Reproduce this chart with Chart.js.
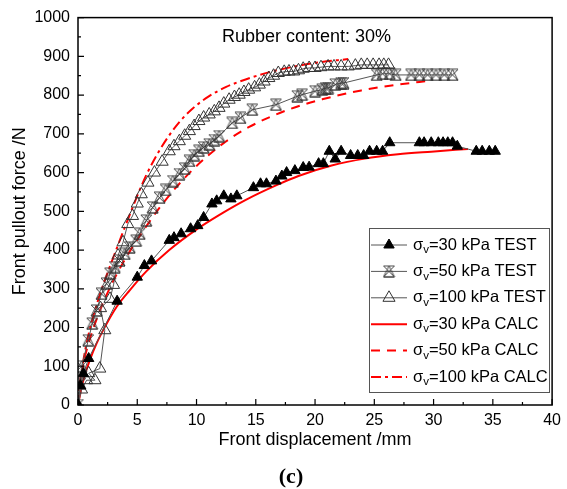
<!DOCTYPE html>
<html>
<head>
<meta charset="utf-8">
<script src="https://cdn.jsdelivr.net/npm/chart.js@4/dist/chart.umd.min.js"></script>
<style>
  body { margin: 0; background: #fff; }
  canvas { display: block; }
</style>
</head>
<body>
<canvas id="pulloutCanvas" width="567" height="489"></canvas>
<script>
// pullout test vs calculation, rubber content 30%
const xTicks = [0, 5, 10, 15, 20, 25, 30, 35, 40];
const yTicks = [0, 100, 200, 300, 400, 500, 600, 700, 800, 900, 1000];

const test30X = [0, 0.2, 0.45, 0.9, 3.3, 5.0, 5.6, 6.2, 7.7, 8.1, 8.7, 9.5, 10.1, 10.6, 11.3, 11.7, 12.3, 12.9, 13.4, 14.8, 15.4, 15.9, 16.7, 17.2, 17.6, 18.3, 19.0, 19.5, 20.3, 20.7, 21.2, 21.7, 22.2, 23.0, 23.6, 24.1, 24.6, 25.2, 25.7, 26.3, 28.8, 29.2, 29.8, 30.4, 30.8, 31.2, 31.6, 32.0, 33.6, 34.1, 34.7, 35.2];
const test30Y = [0, 50, 81, 120, 268, 330, 360, 372, 425, 432, 442, 455, 463, 484, 519, 527, 540, 532, 540, 561, 571, 571, 578, 591, 600, 605, 613, 614, 623, 623, 655, 635, 655, 644, 644, 644, 655, 655, 655, 677, 677, 677, 677, 677, 677, 677, 677, 668, 655, 655, 655, 655];

const test50X = [0, 0.2, 0.3, 0.87, 1.2, 1.57, 1.98, 2.4, 2.7, 3.1, 3.5, 3.94, 4.36, 4.9, 5.2, 5.76, 6.3, 6.88, 7.4, 8.0, 8.55, 9.0, 9.4, 9.8, 10.2, 10.6, 11.07, 11.5, 11.9, 13.0, 13.7, 14.7, 16.7, 18.5, 18.9, 20.0, 20.6, 20.9, 21.1, 21.7, 22.2, 22.4, 25.2, 25.7, 26.3, 26.8, 28.1, 28.8, 29.5, 30.2, 30.9, 31.6];
const test50Y = [0, 55, 100, 167, 210, 244, 287, 313, 339, 356, 373, 390, 407, 424, 442, 476, 510, 535, 555, 578, 596, 610, 630, 645, 656, 665, 673, 684, 694, 728, 741, 762, 775, 797, 801, 810, 814, 818, 818, 827, 831, 831, 852, 855, 855, 852, 852, 852, 852, 852, 852, 852];

const test100X = [0, 0.3, 0.73, 1.43, 0.9, 1.84, 2.26, 1.9, 2.7, 3.0, 3.38, 3.8, 4.2, 4.6, 5.0, 5.34, 5.9, 6.45, 7.1, 7.7, 8.1, 8.55, 9.0, 9.4, 9.8, 10.2, 10.6, 11.07, 11.5, 11.9, 12.3, 12.75, 13.2, 13.6, 14.0, 14.4, 14.9, 15.3, 15.7, 16.1, 16.5, 16.9, 17.4, 17.8, 18.2, 18.6, 19.0, 19.5, 20.0, 20.5, 21.1, 21.6, 22.2, 22.8, 23.4, 23.9, 24.4, 24.9, 25.4, 25.8, 26.2];
const test100Y = [0, 40, 64, 64, 82, 94, 193, 250, 274, 310, 386, 420, 467, 488, 520, 544, 574, 600, 628, 655, 668, 681, 695, 707, 720, 733, 742, 750, 758, 767, 778, 788, 795, 801, 808, 814, 820, 827, 835, 844, 850, 857, 860, 861, 861, 864, 868, 870, 870, 872, 874, 874, 874, 874, 876, 878, 878, 878, 878, 878, 878];

const calc30X = [0, 0.2, 0.45, 1.0, 1.57, 2.26, 3.25, 4.36, 5.76, 7.7, 9.95, 11.9, 14.2, 16.8, 18.6, 21.4, 24.2, 27.0, 29.8, 32.9];
const calc30Y = [0, 30, 64, 116, 159, 201, 253, 296, 345, 400, 452, 490, 530, 568, 591, 618, 636, 647, 654, 661];

const calc50X = [0, 0.15, 0.45, 1.0, 1.7, 2.5, 3.4, 4.5, 5.8, 6.9, 8.4, 10.0, 12.2, 14.4, 17.8, 20.6, 23.9, 27.0, 29.7];
const calc50Y = [0, 45, 105, 170, 232, 290, 345, 403, 463, 510, 566, 617, 674, 717, 763, 789, 812, 827, 837];

const calc100X = [0, 0.1, 0.4, 0.8, 1.3, 1.9, 2.6, 3.4, 4.2, 5.0, 5.8, 6.7, 7.6, 8.6, 9.7, 11.0, 12.5, 14.2, 16.0, 18.0, 20.2, 22.8];
const calc100Y = [0, 40, 105, 170, 230, 290, 350, 415, 478, 540, 596, 648, 692, 732, 766, 796, 821, 841, 858, 872, 884, 893];

function pairs(xs, ys) {
    return xs.map((x, i) => ({ x: x, y: ys[i] }));
}

// crossed triangle marker (triangle + hourglass)
function makeCrossTriangle(size) {
    const c = document.createElement("canvas");
    c.width = size;
    c.height = size;
    const g = c.getContext("2d");
    const a = 1, b = size - 1, m = size / 2;
    g.strokeStyle = "#333";
    g.lineWidth = 0.9;
    g.beginPath();
    g.moveTo(a, b); g.lineTo(m, a); g.lineTo(b, b); g.closePath();
    g.moveTo(a, a); g.lineTo(b, a); g.lineTo(a, b); g.lineTo(b, b); g.closePath();
    g.stroke();
    return c;
}
const crossTri = makeCrossTriangle(13);

const FONT = "'Liberation Sans', Arial, sans-serif";
Chart.defaults.font.family = FONT;
Chart.defaults.color = "#000";

function drawMarker(ctx, ds, x, y) {
    if (!ds.pointRadius) return;
    if (ds.pointStyle === "triangle") {
        const r = ds.pointRadius;
        ctx.beginPath();
        for (let k = 0; k < 3; k++) {
            const ang = k * 2 * Math.PI / 3;
            const px = x + Math.sin(ang) * r, py = y - Math.cos(ang) * r;
            if (k === 0) ctx.moveTo(px, py); else ctx.lineTo(px, py);
        }
        ctx.closePath();
        ctx.setLineDash([]);
        ctx.lineWidth = ds.pointBorderWidth;
        ctx.strokeStyle = ds.pointBorderColor;
        if (ds.pointBackgroundColor !== "transparent") {
            ctx.fillStyle = ds.pointBackgroundColor;
            ctx.fill();
        }
        ctx.stroke();
    } else {
        ctx.drawImage(ds.pointStyle, x - ds.pointStyle.width / 2, y - ds.pointStyle.height / 2);
    }
}

const framePlugin = {
    id: "frame",
    afterDraw(chart) {
        const ctx = chart.ctx;
        const area = chart.chartArea;
        const xs = chart.scales.x, ys = chart.scales.y;
        ctx.save();

        // inward ticks, major + minor
        ctx.strokeStyle = "#000";
        ctx.lineWidth = 1.2;
        ctx.beginPath();
        const xt = xs.ticks.map(t => t.value);
        xt.forEach((v, i) => {
            const p = xs.getPixelForValue(v);
            ctx.moveTo(p, area.bottom); ctx.lineTo(p, area.bottom - 6);
            if (i < xt.length - 1) {
                const q = xs.getPixelForValue((v + xt[i + 1]) / 2);
                ctx.moveTo(q, area.bottom); ctx.lineTo(q, area.bottom - 3);
            }
        });
        const yt = ys.ticks.map(t => t.value);
        yt.forEach((v, i) => {
            const p = ys.getPixelForValue(v);
            ctx.moveTo(area.left, p); ctx.lineTo(area.left + 6, p);
            if (i < yt.length - 1) {
                const q = ys.getPixelForValue((v + yt[i + 1]) / 2);
                ctx.moveTo(area.left, q); ctx.lineTo(area.left + 3, q);
            }
        });
        ctx.stroke();

        ctx.lineWidth = 1.5;
        ctx.strokeRect(area.left, area.top, area.right - area.left, area.bottom - area.top);

        // annotation
        ctx.fillStyle = "#000";
        ctx.font = "18px " + FONT;
        ctx.textAlign = "left";
        ctx.textBaseline = "middle";
        ctx.fillText("Rubber content: 30%", 222, 37);

        ctx.font = "bold 22px 'Liberation Serif', 'Times New Roman', serif";
        ctx.textAlign = "center";
        ctx.fillText("(c)", 291, 477);

        // legend
        const lx = 369, ly = 228, lw = 180, lh = 164;
        ctx.fillStyle = "#fff";
        ctx.fillRect(lx, ly, lw, lh);
        ctx.strokeStyle = "#555";
        ctx.lineWidth = 1;
        ctx.strokeRect(lx + 0.5, ly + 0.5, lw, lh);
        chart.data.datasets.forEach((ds, i) => {
            const y = 245 + i * 26.4;
            ctx.save();
            ctx.strokeStyle = ds.borderColor;
            ctx.lineWidth = ds.borderWidth;
            ctx.setLineDash(ds.borderDash || []);
            ctx.beginPath();
            ctx.moveTo(371, y); ctx.lineTo(407, y);
            ctx.stroke();
            ctx.restore();
            drawMarker(ctx, ds, 389, y);

            ctx.fillStyle = "#000";
            ctx.textAlign = "left";
            ctx.textBaseline = "middle";
            ctx.font = "16.5px " + FONT;
            let tx = 413;
            ctx.fillText(ds.label.slice(0, 1), tx, y);
            tx += ctx.measureText(ds.label.slice(0, 1)).width;
            ctx.font = "11.5px " + FONT;
            ctx.fillText(ds.label.slice(1, 2), tx, y + 5);
            tx += ctx.measureText(ds.label.slice(1, 2)).width;
            ctx.font = "16.5px " + FONT;
            ctx.fillText(ds.label.slice(2), tx, y);
        });
        ctx.restore();
    },
};

const testStyle = {
    showLine: true,
    borderColor: "#555",
    borderWidth: 1,
    pointBorderWidth: 1,
};
const calcStyle = {
    showLine: true,
    borderColor: "#ff0000",
    borderWidth: 2,
    pointRadius: 0,
    cubicInterpolationMode: "monotone",
};

const pulloutChart = new Chart(document.getElementById("pulloutCanvas"), {
    type: "scatter",
    data: {
        datasets: [
            Object.assign({}, testStyle, {
                label: "σv=30 kPa TEST",
                data: pairs(test30X, test30Y),
                pointStyle: "triangle",
                pointRadius: 6,
                pointBackgroundColor: "#000",
                pointBorderColor: "#000",
            }),
            Object.assign({}, testStyle, {
                label: "σv=50 kPa TEST",
                data: pairs(test50X, test50Y),
                pointStyle: crossTri,
                pointRadius: 6,
            }),
            Object.assign({}, testStyle, {
                label: "σv=100 kPa TEST",
                data: pairs(test100X, test100Y),
                pointStyle: "triangle",
                pointRadius: 7,
                pointBackgroundColor: "transparent",
                pointBorderColor: "#333",
            }),
            Object.assign({}, calcStyle, {
                label: "σv=30 kPa CALC",
                data: pairs(calc30X, calc30Y),
            }),
            Object.assign({}, calcStyle, {
                label: "σv=50 kPa CALC",
                data: pairs(calc50X, calc50Y),
                borderDash: [9, 7],
            }),
            Object.assign({}, calcStyle, {
                label: "σv=100 kPa CALC",
                data: pairs(calc100X, calc100Y),
                borderDash: [10, 4, 3, 4],
            }),
        ],
    },
    options: {
        responsive: false,
        animation: false,
        layout: { padding: { top: 16, right: 12, left: 0, bottom: 0 } },
        plugins: {
            legend: { display: false },
            tooltip: { enabled: false },
        },
        scales: {
            x: {
                type: "linear",
                min: xTicks[0],
                max: xTicks[xTicks.length - 1],
                afterBuildTicks: (s) => { s.ticks = xTicks.map(v => ({ value: v })); },
                afterFit: (s) => { s.height = 84; },
                grid: { display: false, drawTicks: false },
                border: { display: false },
                ticks: { font: { size: 16 }, color: "#000", padding: 6, maxRotation: 0, callback: (v) => String(v) },
                title: {
                    display: true,
                    text: "Front displacement /mm",
                    font: { size: 18 },
                    color: "#000",
                    padding: { top: 0, bottom: 38 },
                },
            },
            y: {
                type: "linear",
                min: yTicks[0],
                max: yTicks[yTicks.length - 1],
                afterBuildTicks: (s) => { s.ticks = yTicks.map(v => ({ value: v })); },
                afterFit: (s) => { s.width = 78; },
                grid: { display: false, drawTicks: false },
                border: { display: false },
                ticks: { font: { size: 16 }, color: "#000", padding: 8, callback: (v) => String(v) },
                title: {
                    display: true,
                    text: "Front pullout force /N",
                    font: { size: 18 },
                    color: "#000",
                    padding: { top: 9, bottom: 0 },
                },
            },
        },
    },
    plugins: [framePlugin],
});
</script>
</body>
</html>
